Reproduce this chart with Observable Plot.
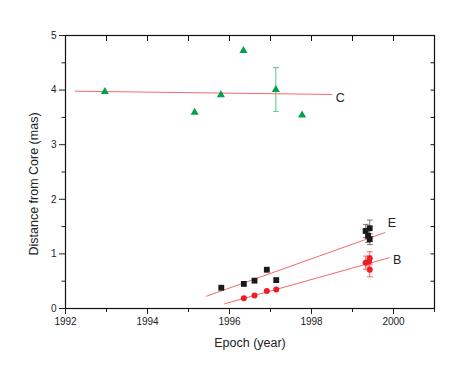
<!DOCTYPE html>
<html><head><meta charset="utf-8">
<script src="https://cdn.jsdelivr.net/npm/d3@7"></script>
<script src="https://cdn.jsdelivr.net/npm/@observablehq/plot@0.6"></script>
<style>body{margin:0;background:#fff}</style>
</head><body><div id="chart"></div>
<script>
// Component C (green triangles)
const cYears  = [1992.96, 1995.15, 1995.79, 1996.34, 1997.13, 1997.77];
const cValues = [3.97, 3.59, 3.91, 4.72, 4.01, 3.54];
const cErrors = [0, 0, 0, 0, 0.40, 0];
// Component E (black squares)
const eYears  = [1995.80, 1996.35, 1996.61, 1996.91, 1997.14, 1999.32, 1999.42, 1999.38, 1999.42];
const eValues = [0.38, 0.45, 0.51, 0.71, 0.52, 1.42, 1.47, 1.33, 1.27];
const eErrors = [0, 0, 0, 0, 0, 0.12, 0.15, 0.12, 0.10];
// Component B (red circles)
const bYears  = [1996.35, 1996.61, 1996.91, 1997.14, 1999.32, 1999.42, 1999.40, 1999.42];
const bValues = [0.19, 0.24, 0.32, 0.35, 0.84, 0.92, 0.86, 0.71];
const bErrors = [0, 0, 0, 0, 0.12, 0.12, 0.10, 0.13];
// Linear fits (start/end)
const fitCYears = [1992.24, 1998.50], fitCValues = [3.98, 3.92];
const fitEYears = [1995.44, 1999.79], fitEValues = [0.225, 1.39];
const fitBYears = [1995.88, 1999.90], fitBValues = [0.085, 0.93];
// Series labels
const labelNames  = ["C", "E", "B"];
const labelYears  = [1998.59, 1999.86, 1999.99];
const labelValues = [3.86, 1.57, 0.885];
// Ticks
const xMajorTicks = [1992, 1994, 1996, 1998, 2000];
const xMinorTicks = [1993, 1995, 1997, 1999, 2001];
const xAllTicks = [1992, 1993, 1994, 1995, 1996, 1997, 1998, 1999, 2000, 2001];
const yMajorTicks = [0, 1, 2, 3, 4, 5];
const yMinorTicks = [0.5, 1.5, 2.5, 3.5, 4.5];
const yAllTicks = [0.5, 1, 1.5, 2, 2.5, 3, 3.5, 4, 4.5];
const xTitle = "Epoch (year)";
const yTitle = "Distance from Core (mas)";

const W = 463, H = 382, mL = 65, mR = 29, mT = 35, mB = 74;
const plotW = W - mL - mR, plotH = H - mT - mB;

const tbl = (xs, ys, es) => xs.map((x, i) => ({x, y: ys[i], e: es[i]}));
const cData = tbl(cYears, cValues, cErrors);
const eData = tbl(eYears, eValues, eErrors);
const bData = tbl(bYears, bValues, bErrors);
const fit = (xs, ys) => xs.map((x, i) => ({x, y: ys[i]}));
const labels = labelNames.map((t, i) => ({t, x: labelYears[i], y: labelValues[i]}));

const errMark = (data, color) => Plot.link(data.filter(d => d.e > 0), {
  x1: "x", x2: "x", y1: d => d.y - d.e, y2: d => d.y + d.e,
  stroke: color, strokeWidth: 1, markerStart: "tick-x", markerEnd: "tick-x"
});

const fitColor = "#f26b6b";
const chart = Plot.plot({
  width: W, height: H,
  marginLeft: mL, marginRight: mR, marginTop: mT, marginBottom: mB,
  style: {fontFamily: "Liberation Sans, Arial, sans-serif", fontSize: "10px", background: "white", color: "#222"},
  x: {domain: [1992, 2001]},
  y: {domain: [0, 5]},
  marks: [
    Plot.axisX({anchor: "bottom", ticks: xMajorTicks, tickSize: 6, tickFormat: d => String(d), label: null}),
    Plot.axisX({anchor: "bottom", ticks: xMinorTicks, tickSize: 4, tickFormat: () => "", label: null}),
    Plot.axisY({anchor: "left", ticks: yMajorTicks, tickSize: 6, tickFormat: d => String(d), label: null}),
    Plot.axisY({anchor: "left", ticks: yMinorTicks, tickSize: 3.5, tickFormat: () => "", label: null}),
    Plot.tickX(xAllTicks, {x: d => d, insetBottom: plotH - 6, stroke: "#111"}),
    Plot.tickY(yAllTicks, {y: d => d, insetLeft: plotW - 3.5, stroke: "#111"}),
    Plot.frame({stroke: "#111", strokeWidth: 1.2}),
    Plot.line(fit(fitCYears, fitCValues), {x: "x", y: "y", stroke: fitColor, strokeWidth: 1}),
    Plot.line(fit(fitEYears, fitEValues), {x: "x", y: "y", stroke: fitColor, strokeWidth: 1}),
    Plot.line(fit(fitBYears, fitBValues), {x: "x", y: "y", stroke: fitColor, strokeWidth: 1}),
    errMark(cData, "#5cc38a"),
    errMark(eData, "#777777"),
    errMark(bData, "#f0686c"),
    Plot.dot(cData, {x: "x", y: "y", symbol: "triangle", r: 3, fill: "#00a14b", stroke: "none"}),
    Plot.dot(eData, {x: "x", y: "y", symbol: "square", r: 3.3, fill: "#1a1a1a", stroke: "none"}),
    Plot.dot(bData, {x: "x", y: "y", symbol: "circle", r: 3, fill: "#ee1c25", stroke: "none"}),
    Plot.text(labels, {x: "x", y: "y", text: "t", textAnchor: "start", fontSize: 12.5, fill: "#222"}),
    Plot.text([xTitle], {text: d => d, frameAnchor: "bottom", dy: 38, fontSize: 12.5, fill: "#222"}),
    Plot.text([yTitle], {text: d => d, frameAnchor: "left", textAnchor: "middle", dx: -32, dy: 12, rotate: -90, fontSize: 12.5, fill: "#222"})
  ]
});
document.getElementById("chart").append(chart);
</script>
</body></html>
